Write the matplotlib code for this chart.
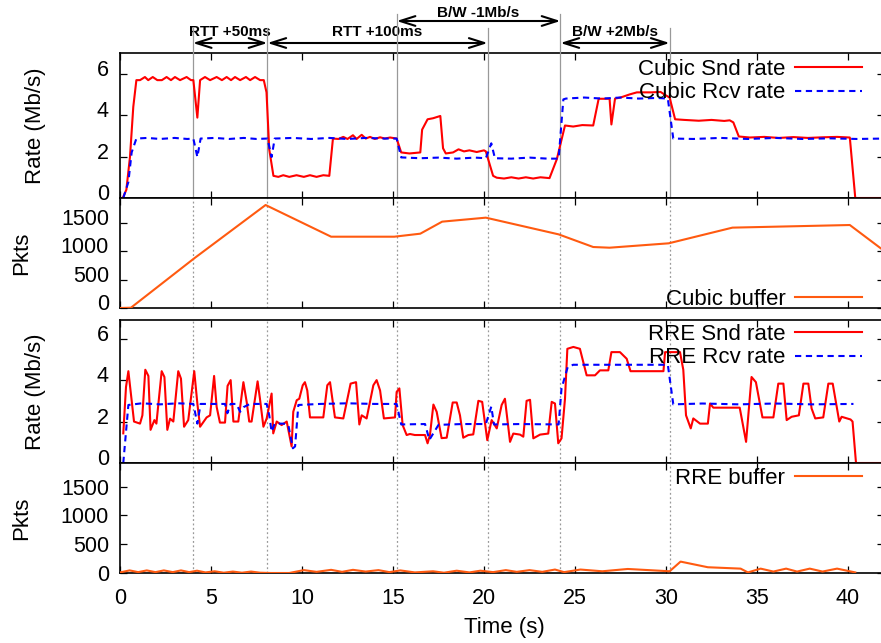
import matplotlib
matplotlib.use("Agg")
import matplotlib.pyplot as plt
import matplotlib.transforms as mtransforms
from matplotlib.lines import Line2D

plt.rcParams["font.family"] = ["Liberation Sans", "DejaVu Sans"]

# ---------------- data ----------------
# Cubic: sender / receiver rate (Mb/s)
cubic_snd_t = [0.15, 0.35, 0.55, 0.73, 0.9, 1.1, 1.37, 1.55, 1.8, 2.05, 2.3, 2.56, 2.8, 3.02, 3.3, 3.66,
               3.9, 4.03, 4.25, 4.4, 4.67, 4.95, 5.31, 5.6, 5.86, 6.1, 6.32, 6.6, 6.92, 7.15, 7.42, 7.7,
               7.9, 8.05, 8.2, 8.43, 8.7, 8.97, 9.3, 9.7, 10.1, 10.44, 10.8, 11.17, 11.5, 11.7, 12.0,
               12.27, 12.5, 12.8, 13.0, 13.28, 13.5, 13.74, 14.0, 14.29, 14.55, 14.84, 15.2, 15.45,
               15.9, 16.5, 16.6, 16.9, 17.2, 17.6, 17.75, 17.9, 18.3, 18.6, 18.9, 19.2, 19.6, 20.0,
               20.1, 20.5, 20.7, 21.1, 21.5, 21.9, 22.3, 22.7, 23.1, 23.6, 24.0, 24.45, 24.9, 25.4,
               26.0, 26.3, 26.9, 27.0, 27.2, 27.5, 28.0, 28.4, 29.2, 29.7, 30.0, 30.2, 30.5, 31.0,
               31.8, 32.5, 33.2, 33.5, 33.7, 34.0, 34.6, 35.4, 36.2, 37.0, 37.8, 38.6, 39.4, 40.1,
               40.4, 42.0]
cubic_snd_v = [0.0, 0.4, 2.0, 4.4, 5.69, 5.69, 5.84, 5.69, 5.84, 5.69, 5.69, 5.84, 5.69, 5.84, 5.69, 5.84,
               5.69, 5.69, 3.88, 5.69, 5.84, 5.69, 5.84, 5.69, 5.84, 5.69, 5.84, 5.69, 5.84, 5.69, 5.84, 5.69,
               5.69, 5.1, 2.35, 1.07, 1.02, 1.1, 1.02, 1.1, 1.02, 1.1, 1.02, 1.1, 1.07, 2.87, 2.85,
               2.95, 2.85, 3.03, 2.85, 3.05, 2.87, 2.95, 2.85, 2.93, 2.87, 2.92, 2.87, 2.2,
               2.15, 2.2, 3.3, 3.8, 3.85, 3.96, 2.4, 2.15, 2.2, 2.35, 2.25, 2.3, 2.22, 2.3,
               2.25, 1.07, 0.98, 0.94, 1.0, 0.94, 1.0, 0.94, 1.0, 0.96, 1.87, 3.5, 3.45, 3.52,
               3.5, 4.79, 4.79, 3.55, 4.8, 4.85, 5.0, 5.1, 5.1, 5.12, 4.95, 4.85, 3.8, 3.77,
               3.73, 3.77, 3.72, 3.75, 3.65, 2.97, 2.92, 2.95, 2.9, 2.94, 2.9, 2.93, 2.95, 2.92,
               0.0, 0.0]

cubic_rcv_t = [0.18, 0.46, 0.64, 0.9, 1.5, 2.2, 3.0, 3.7, 4.03, 4.25, 4.43, 5.2, 6.0, 6.8, 7.5,
               8.1, 8.33, 8.5, 9.5, 10.5, 11.5, 12.5, 13.5, 14.5, 15.2, 15.45, 16.5, 17.5, 18.5,
               19.5, 20.1, 20.4, 20.6, 21.5, 22.5, 23.5, 24.1, 24.36, 24.5, 25.5, 26.5, 27.5, 28.5,
               29.5, 30.1, 30.4, 31.5, 33.0, 34.5, 36.0, 37.5, 39.0, 40.5, 42.0]
cubic_rcv_v = [0.0, 0.77, 2.2, 2.87, 2.9, 2.85, 2.9, 2.85, 2.87, 1.98, 2.87, 2.9, 2.85, 2.9, 2.85,
               2.87, 1.98, 2.87, 2.9, 2.85, 2.9, 2.85, 2.9, 2.87, 2.87, 1.96, 1.92, 1.95, 1.9,
               1.95, 1.92, 2.64, 1.92, 1.9, 1.95, 1.9, 1.9, 4.76, 4.8, 4.85, 4.8, 4.85, 4.8,
               4.83, 4.8, 2.87, 2.85, 2.9, 2.85, 2.9, 2.85, 2.88, 2.85, 2.87]

# Cubic bottleneck buffer occupancy (packets)
cubic_buf_t = [0.0, 0.6, 4.08, 8.0, 11.6, 15.07, 16.5, 17.7, 20.1, 24.1, 26.0, 26.9, 30.15, 33.65, 40.1, 41.8]
cubic_buf_v = [0, 5, 872, 1807, 1251, 1251, 1304, 1515, 1585, 1292, 1070, 1058, 1135, 1410, 1456, 1047]

# RRE: sender / receiver rate (Mb/s)
rre_snd_t = [0.18, 0.33, 0.46, 0.59, 0.77, 1.1, 1.23, 1.39, 1.56, 1.68, 1.89, 2.0, 2.29, 2.44, 2.6, 2.75,
             2.93, 3.2, 3.35, 3.52, 3.75, 4.08, 4.25, 4.4, 4.76, 4.95, 5.17, 5.31, 5.49, 5.77, 5.91,
             6.08, 6.23, 6.5, 6.78, 6.96, 7.1, 7.23, 7.56, 7.69, 7.88, 8.06, 8.33, 8.42, 8.61, 8.88,
             9.16, 9.43, 9.52, 9.71, 9.85, 10.04, 10.16, 10.29, 10.44, 11.17, 11.39, 11.54, 11.81,
             12.27, 12.67, 12.97, 13.15, 13.28, 13.55, 13.92, 14.1, 14.29, 14.5, 15.11, 15.2, 15.35,
             15.53, 15.75, 15.93, 16.2, 16.76, 16.9, 17.03, 17.22, 17.4, 17.67, 17.95, 18.28, 18.5,
             18.68, 18.86, 19.14, 19.41, 19.69, 19.9, 20.18, 20.42, 20.7, 20.97, 21.15, 21.43, 21.61,
             21.98, 22.16, 22.34, 22.53, 22.71, 23.08, 23.53, 23.72, 23.9, 24.08, 24.26, 24.45, 24.58,
             24.91, 25.27, 25.64, 26.1, 26.37, 26.83, 27.0, 27.47, 27.84, 28.05, 29.86, 29.95, 30.77,
             30.95, 31.1, 31.36, 31.5, 31.87, 32.3, 32.42, 32.6, 34.05, 34.4, 34.7, 34.94, 35.3, 35.9,
             36.17, 36.45, 36.63, 36.9, 37.3, 37.55, 37.82, 38.0, 38.2, 38.64, 38.92, 39.16, 39.52,
             39.65, 40.14, 40.25, 40.44, 42.0]
rre_snd_v = [1.43, 3.67, 4.43, 3.43, 2.0, 1.9, 2.3, 4.5, 4.2, 1.6, 2.07, 1.9, 4.43, 4.15, 1.6, 2.14,
             2.0, 4.43, 4.07, 1.75, 2.07, 4.43, 2.87, 1.75, 2.2, 2.3, 4.2, 2.71, 1.95, 1.95, 3.72,
             4.0, 2.0, 2.0, 3.9, 2.95, 2.0, 2.0, 3.94, 3.1, 1.75, 2.15, 3.35, 1.43, 2.0, 1.83,
             2.0, 0.8, 2.47, 3.03, 3.1, 3.75, 3.9, 3.5, 2.2, 2.2, 3.75, 3.9, 2.2,
             2.15, 3.83, 3.9, 1.86, 2.3, 2.15, 3.75, 4.0, 3.5, 2.15, 2.2, 3.43, 3.6,
             1.83, 1.35, 1.4, 1.35, 1.35, 0.95, 1.35, 2.82, 2.47, 1.2, 1.22, 2.92, 2.92,
             2.3, 1.22, 1.35, 1.38, 3.0, 2.95, 1.1, 2.07, 1.67, 2.8, 3.1, 1.02, 1.42,
             1.37, 1.27, 3.0, 3.05, 1.19, 1.37, 1.42, 2.95, 2.87, 0.95, 1.19, 3.1, 5.51,
             5.6, 5.51, 4.23, 4.23, 4.47, 4.47, 5.35, 5.35, 5.03, 4.43, 4.43, 5.35, 5.35,
             4.5, 2.3, 1.67, 2.15, 1.9, 1.9, 2.87, 2.67, 2.67, 1.02, 4.15, 3.9, 2.2, 2.2,
             3.83, 3.83, 2.07, 2.23, 2.3, 3.83, 3.83, 2.63, 2.15, 2.2, 3.83, 3.83, 2.0,
             2.23, 2.1, 2.0, 0.0, 0.0]

rre_rcv_t = [0.18, 0.46, 1.2, 2.2, 3.2, 4.03, 4.25, 4.43, 5.77, 5.9, 6.08, 6.4, 6.6, 6.8, 7.14, 8.06,
             8.2, 8.33, 8.5, 9.0, 9.25, 9.5, 9.62, 9.8, 11.0, 12.5, 14.0, 15.2, 15.45, 16.76, 17.0,
             17.5, 18.8, 20.1, 20.4, 20.55, 22.0, 24.1, 24.26, 24.6, 24.9, 26.5, 28.0, 30.1, 30.4,
             32.0, 34.0, 36.0, 38.0, 40.3]
rre_rcv_v = [0.0, 2.8, 2.88, 2.83, 2.88, 2.85, 1.9, 2.85, 2.85, 2.4, 2.85, 2.85, 2.47, 2.7, 2.85, 2.85,
             2.3, 1.51, 1.9, 1.9, 1.83, 0.71, 0.8, 2.8, 2.85, 2.88, 2.85, 2.85, 1.86, 1.88, 1.12,
             1.84, 1.88, 1.88, 2.72, 1.86, 1.88, 1.86, 3.6, 4.63, 4.74, 4.74, 4.74, 4.74, 2.83,
             2.87, 2.83, 2.87, 2.83, 2.85]

# RRE bottleneck buffer occupancy (packets)
rre_buf_t = [0.0, 0.53, 1.0, 1.47, 1.95, 2.41, 2.9, 3.35, 3.8, 4.23, 4.7, 5.2, 5.7, 6.2, 6.7, 7.2, 7.7,
             8.3, 9.3, 10.1, 10.8, 11.6, 12.2, 12.8, 13.5, 14.2, 14.8, 15.4, 16.2, 17.2, 17.8, 18.5,
             19.2, 19.8, 20.5, 21.2, 21.8, 22.5, 23.2, 23.9, 24.4, 25.3, 26.5, 27.9, 30.2, 30.8,
             32.3, 34.1, 34.5, 35.2, 35.9, 36.6, 37.2, 37.9, 38.6, 39.4, 40.4]
rre_buf_v = [10, 45, 15, 45, 15, 45, 15, 45, 15, 40, 10, 30, 5, 25, 5, 25, 5,
             0, 0, 50, 20, 55, 20, 55, 25, 50, 15, 45, 10, 30, 5, 40,
             10, 40, 15, 50, 20, 50, 20, 60, 15, 60, 30, 70, 30, 198,
             100, 76, 10, 76, 25, 76, 25, 76, 25, 76, 10]

# event times (s) and annotations
event_t = [4.0, 8.1, 15.2, 20.2, 24.2, 30.2]
rtt50 = (4.0, 8.1, "RTT +50ms")
rtt100 = (8.1, 20.2, "RTT +100ms")
bw_down = (15.2, 24.2, "B/W -1Mb/s")
bw_up = (24.2, 30.2, "B/W +2Mb/s")

x_ticks = [0, 5, 10, 15, 20, 25, 30, 35, 40]
rate_ticks = [0, 2, 4, 6]
pkt_ticks = [0, 500, 1000, 1500]

# ---------------- figure ----------------
W, H = 881, 643
fig = plt.figure(figsize=(W / 100, H / 100), dpi=100)
X0, X1 = 120, 884          # axes edges in pixels (right frame sits just past the edge)
XMAX = (X1 - X0) / 18.2    # seconds across the frame


def axes_at(top, bottom):
    return fig.add_axes([X0 / W, 1 - bottom / H, (X1 - X0) / W, (bottom - top) / H])


ax1 = axes_at(53, 198)
ax2 = axes_at(198, 308)
ax3 = axes_at(320, 463)
ax4 = axes_at(463, 573)

RED = "#ff0000"
BLUE = "#0000ff"
ORANGE = "#ff5a10"
GRAY = "#999999"
LW = 1.5
DASH = (3.0, 2.2)

for ax in (ax1, ax2, ax3, ax4):
    ax.set_xlim(0, XMAX)
    ax.set_xticks(x_ticks)
    ax.tick_params(direction="in", length=5, width=0.9, top=True, right=True,
                   labelsize=15.5, colors="black")
    ax.tick_params(axis="y", pad=8)
    ax.tick_params(axis="x", pad=11)
    for s in ax.spines.values():
        s.set_linewidth(1.2)
for ax in (ax1, ax2, ax3):
    ax.tick_params(labelbottom=False)

# event markers
for t in event_t:
    ax1.axvline(t, color=GRAY, lw=0.9, zorder=1)
    for ax in (ax2, ax3, ax4):
        ax.axvline(t, color=GRAY, lw=0.9, ls=(0, (1.5, 2.0)), zorder=1)

# rate panels
ax1.plot(cubic_snd_t, cubic_snd_v, color=RED, lw=LW, label="Cubic Snd rate", zorder=3)
ax1.plot(cubic_rcv_t, cubic_rcv_v, color=BLUE, lw=LW, dashes=DASH, label="Cubic Rcv rate", zorder=3)
ax1.set_ylim(0, 7)
ax1.set_yticks(rate_ticks)

ax3.plot(rre_snd_t, rre_snd_v, color=RED, lw=LW, label="RRE Snd rate", zorder=3)
ax3.plot(rre_rcv_t, rre_rcv_v, color=BLUE, lw=LW, dashes=DASH, label="RRE Rcv rate", zorder=3)
ax3.set_ylim(0, 6.9)
ax3.set_yticks(rate_ticks)

# buffer panels
ax2.plot(cubic_buf_t, cubic_buf_v, color=ORANGE, lw=LW, label="Cubic buffer", zorder=3)
ax2.set_ylim(0, 1930)
ax2.set_yticks(pkt_ticks)

ax4.plot(rre_buf_t, rre_buf_v, color=ORANGE, lw=LW, label="RRE buffer", zorder=3)
ax4.set_ylim(0, 1912)
ax4.set_yticks(pkt_ticks)

# y tick labels of the upper three panels sit slightly above their ticks
lift = mtransforms.ScaledTranslation(0, 6 / 100, fig.dpi_scale_trans)
for ax in (ax1, ax2, ax3):
    for lbl in ax.get_yticklabels():
        lbl.set_transform(lbl.get_transform() + lift)

leg_kw = dict(frameon=False, markerfirst=False, fontsize=16, handlelength=3.0,
              handletextpad=0.45, borderpad=0, borderaxespad=0, labelspacing=0.1)
xr = (862 - X0) / (X1 - X0)
ax1.legend(loc="upper right", bbox_to_anchor=(xr, 0.958), **leg_kw)
ax2.legend(loc="lower right", bbox_to_anchor=(xr, -0.016), **leg_kw)
ax3.legend(loc="upper right", bbox_to_anchor=(xr, 0.971), **leg_kw)
ax4.legend(loc="upper right", bbox_to_anchor=(xr, 0.953), **leg_kw)

# axis titles
fig.text(36 / W, 1 - 125.5 / H, "Rate (Mb/s)", rotation=90, ha="center", va="center", fontsize=16)
fig.text(36 / W, 1 - 391.5 / H, "Rate (Mb/s)", rotation=90, ha="center", va="center", fontsize=16)
fig.text(22 / W, 1 - 253 / H, "Pkts", rotation=90, ha="center", va="center", fontsize=16)
fig.text(22 / W, 1 - 518 / H, "Pkts", rotation=90, ha="center", va="center", fontsize=16)
fig.text(504 / W, 1 - 627 / H, "Time (s)", ha="center", va="center", fontsize=16)

# event annotations above the top panel
trans = mtransforms.blended_transform_factory(ax1.transData, fig.transFigure)
low_y = 1 - 43 / H
high_y = 1 - 21 / H
low_txt = 1 - 32 / H
high_txt = 1 - 13 / H
line_top = {4.0: 1 - 28 / H, 8.1: 1 - 28 / H, 15.2: 1 - 14 / H,
            20.2: 1 - 28 / H, 24.2: 1 - 14 / H, 30.2: 1 - 28 / H}
ax_top = 1 - 53 / H
for t in event_t:
    fig.add_artist(Line2D([t, t], [ax_top, line_top[t]], transform=trans, color=GRAY, lw=0.9))

arrow_style = "<->,head_length=1.1,head_width=0.35"
for (a, b, label), ya, yt in ((rtt50, low_y, low_txt), (rtt100, low_y, low_txt),
                              (bw_down, high_y, high_txt), (bw_up, low_y, low_txt)):
    ax1.annotate("", xy=(b, ya), xytext=(a, ya), xycoords=trans, textcoords=trans,
                 arrowprops=dict(arrowstyle=arrow_style, color="black", lw=1.5,
                                 shrinkA=0, shrinkB=0), annotation_clip=False)
    ax1.text((a + b) / 2, yt, label, transform=trans, ha="center", va="center",
             fontsize=11, fontweight="bold")

fig.savefig("out.png", dpi=100)
